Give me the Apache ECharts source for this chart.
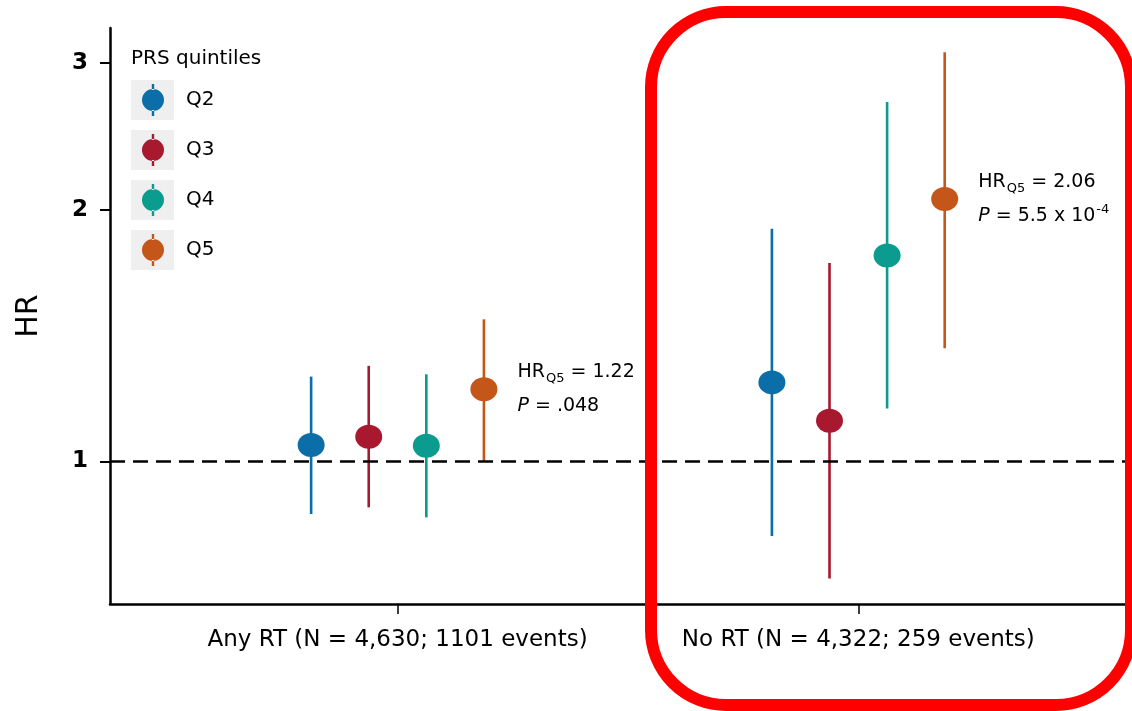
<!DOCTYPE html>
<html>
<head>
<meta charset="utf-8">
<script src="https://cdn.jsdelivr.net/npm/echarts@6/dist/echarts.min.js"></script>
<style>
	html, body { margin: 0; padding: 0; background: #fff; }
	#chart { width: 1132px; height: 711px; }
</style>
</head>
<body>
<div id="chart"></div>
<script>
// 数据
const groups = ["Any RT (N = 4,630; 1101 events)", "No RT (N = 4,322; 259 events)"];
const quintiles = ["Q2", "Q3", "Q4", "Q5"];
const hrAny = [1.046, 1.07, 1.044, 1.22];
const loAny = [0.865, 0.881, 0.857, 1.0];
const hiAny = [1.263, 1.301, 1.271, 1.479];
const hrNo = [1.243, 1.118, 1.763, 2.06];
const loNo = [0.814, 0.724, 1.157, 1.366];
const hiNo = [1.898, 1.727, 2.691, 3.086];
const q5Hr = ["1.22", "2.06"];
const q5P = [".048", "5.5 x 10"];
const q5PExp = ["", "-4"];
const yTicks = [1, 2, 3];

const colors = ["#0b6ea8", "#a8182e", "#0b9b8f", "#c4561a"];
const dodge = [-0.1875, -0.0625, 0.0625, 0.1875];
const font = "DejaVu Sans";

let chart = echarts.init(document.getElementById("chart"));

const hr = [hrAny, hrNo];
const lo = [loAny, loNo];
const hi = [hiAny, hiNo];

function renderBar(params, api) {
	const x = api.value(0);
	const top = api.coord([x, api.value(2)]);
	const bot = api.coord([x, api.value(1)]);
	return {
		type: "line",
		shape: { x1: top[0], y1: top[1], x2: bot[0], y2: bot[1] },
		style: { stroke: api.visual("color"), lineWidth: 2.6 },
	};
}

const rich = {
	n: { fontSize: 19, fontFamily: font, color: "#000", lineHeight: 34 },
	s: { fontSize: 13, fontFamily: font, color: "#000", padding: [13, 0, 0, 1] },
	i: { fontSize: 19, fontFamily: font, color: "#000", fontStyle: "italic", lineHeight: 34 },
	sup: { fontSize: 13, fontFamily: font, color: "#000", padding: [0, 0, 12, 1] },
};

function noteText(gi) {
	let t = "{n|HR}{s|Q5}{n| = " + q5Hr[gi] + "}\n{i|P}{n| = " + q5P[gi] + "}";
	if (q5PExp[gi]) t += "{sup|" + q5PExp[gi] + "}";
	return t;
}

const series = [];
quintiles.forEach((q, qi) => {
	const barData = groups.map((g, gi) => [gi + 1 + dodge[qi], lo[gi][qi], hi[gi][qi]]);
	const ptData = groups.map((g, gi) => {
		const item = { value: [gi + 1 + dodge[qi], hr[gi][qi]] };
		if (q === "Q5") {
			item.label = {
				show: true,
				position: "right",
				distance: 20,
				formatter: noteText(gi),
				rich: rich,
			};
		}
		return item;
	});
	const bar = {
		name: q,
		type: "custom",
		renderItem: renderBar,
		encode: { x: 0, y: [1, 2] },
		itemStyle: { color: colors[qi] },
		data: barData,
		z: 2,
		silent: true,
	};
	if (qi === 0) {
		bar.markLine = {
			silent: true,
			symbol: ["none", "none"],
			label: { show: false },
			lineStyle: { color: "#000", width: 2.5, type: [15, 8] },
			data: [{ yAxis: 1 }],
			z: 5,
		};
	}
	series.push(bar);
	series.push({
		name: q,
		type: "scatter",
		symbol: "circle",
		symbolSize: [27, 24],
		itemStyle: { color: colors[qi], opacity: 1 },
		data: ptData,
		z: 3,
		silent: true,
	});
});

// 图例图标：圆点加竖线
const legendIcon =
	"path://M9.8,0h2.4v6h-2.4zM9.8,26h2.4v6h-2.4zM0,16a11,11 0 1,0 22,0a11,11 0 1,0 -22,0z";

const option = {
	animation: false,
	backgroundColor: "#fff",
	title: {
		text: "PRS quintiles",
		left: 131,
		top: 49,
		padding: 0,
		textStyle: { fontFamily: font, fontSize: 20, fontWeight: "normal", color: "#000" },
	},
	legend: {
		orient: "vertical",
		left: 142,
		top: 84,
		padding: 0,
		itemWidth: 22,
		itemHeight: 32,
		itemGap: 18,
		icon: legendIcon,
		selectedMode: false,
		data: quintiles,
		textStyle: { fontFamily: font, fontSize: 20, color: "#000", padding: [0, 0, 0, 17] },
	},
	grid: {
		left: 110,
		right: 0,
		top: 28,
		bottom: 107,
		outerBoundsMode: "none",
	},
	xAxis: {
		type: "value",
		min: 0.376,
		max: 2.594,
		splitLine: { show: false },
		axisLine: { show: true, lineStyle: { color: "#000", width: 2.5 } },
		axisTick: { show: true, customValues: [1, 2], length: 10, lineStyle: { color: "#000", width: 1.5 } },
		axisLabel: {
			customValues: [1, 2],
			margin: 25,
			fontFamily: font,
			fontSize: 23,
			color: "#000",
			formatter: (v) => groups[Math.round(v) - 1],
		},
	},
	yAxis: {
		type: "log",
		min: 0.675,
		max: 3.3,
		name: "HR",
		nameLocation: "middle",
		nameGap: 66,
		nameRotate: 90,
		nameTextStyle: { fontFamily: font, fontSize: 30, color: "#000" },
		splitLine: { show: false },
		axisLine: { show: true, lineStyle: { color: "#000", width: 2.5 } },
		axisTick: { show: true, customValues: yTicks, length: 10, lineStyle: { color: "#000", width: 2 } },
		axisLabel: {
			customValues: yTicks,
			margin: 22,
			fontFamily: font,
			fontSize: 23,
			fontWeight: "bold",
			color: "#000",
			formatter: (v) => String(Math.round(v)),
		},
	},
	graphic: [
		...quintiles.map((q, i) => ({
			type: "rect",
			z: 1,
			shape: { x: 131, y: 80 + i * 50, width: 43, height: 40 },
			style: { fill: "#efefef" },
		})),
		{
			type: "rect",
			z: 100,
			shape: { x: 651, y: 12, width: 480, height: 693, r: 75 },
			style: { fill: "none", stroke: "#ff0000", lineWidth: 12 },
		},
	],
	series: series,
};

chart.setOption(option);
</script>
</body>
</html>
